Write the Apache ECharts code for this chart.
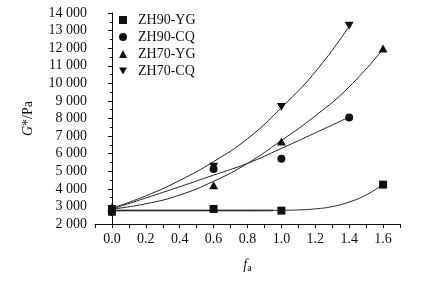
<!DOCTYPE html>
<html><head><meta charset="utf-8">
<script src="https://cdn.jsdelivr.net/npm/echarts@6/dist/echarts.min.js"></script>
<style>html,body{margin:0;padding:0;background:#fff}#c{width:431px;height:285px}</style>
</head><body><div id="c"></div>
<script>
// measured points
const seriesNames = ['ZH90-YG', 'ZH90-CQ', 'ZH70-YG', 'ZH70-CQ'];
const xYG90 = [0, 0.6, 1.0, 1.6];
const yYG90 = [2700, 2855, 2760, 4240];
const xCQ90 = [0, 0.6, 1.0, 1.4];
const yCQ90 = [2850, 5135, 5705, 8060];
const xYG70 = [0, 0.6, 1.0, 1.6];
const yYG70 = [2950, 4200, 6690, 11980];
const xCQ70 = [0, 0.6, 1.0, 1.4];
const yCQ70 = [2850, 5250, 8650, 13270];

// fitted curves
const fitX_YG90 = [0, 0.2, 0.4, 0.6, 0.8, 1.0, 1.1, 1.2, 1.3, 1.4, 1.5, 1.6];
const fitY_YG90 = [2770, 2770, 2770, 2770, 2772, 2780, 2800, 2860, 2990, 3250, 3650, 4240];
const greyX = [0, 0.95];
const greyY = [2770, 2770];
const fitX_CQ90 = [0, 0.2, 0.4, 0.6, 0.8, 1.0, 1.2, 1.4];
const fitY_CQ90 = [2850, 3480, 4120, 4780, 5450, 6300, 7180, 8080];
const fitX_YG70 = [0, 0.2, 0.4, 0.6, 0.8, 1.0, 1.2, 1.4, 1.6];
const fitY_YG70 = [2850, 3150, 3650, 4430, 5450, 6750, 8150, 9800, 11950];
const fitX_CQ70 = [0, 0.2, 0.4, 0.6, 0.8, 1.0, 1.2, 1.4];
const fitY_CQ70 = [2900, 3600, 4480, 5550, 6850, 8620, 10650, 13250];

const xTicksShown = [0, 0.2, 0.4, 0.6, 0.8, 1.0, 1.2, 1.4, 1.6];

const zip = (xs, ys) => xs.map((x, i) => [x, ys[i]]);
const FONT = '"Liberation Serif", "Times New Roman", serif';
const INK = '#111';
const downTri = 'path://M0,0 L10,0 L5,9 Z';

const chart = echarts.init(document.getElementById('c'), null, {renderer: 'canvas'});
const lineCommon = {type: 'line', smooth: true, showSymbol: false, symbol: 'none', silent: true,
  lineStyle: {color: '#222', width: 1}, z: 2};
const mark = {color: INK, opacity: 1};
chart.setOption({
  animation: false,
  backgroundColor: '#fff',
  grid: {left: 95, right: 31, top: 13, bottom: 61, containLabel: false},
  legend: {
    orient: 'vertical', left: 114, top: 8, itemWidth: 8, itemHeight: 8, itemGap: 3,
    textStyle: {fontFamily: FONT, fontSize: 14, color: INK, lineHeight: 14, padding: [0, 0, 0, 6]},
    data: [
      {name: seriesNames[0], icon: 'rect'},
      {name: seriesNames[1], icon: 'circle'},
      {name: seriesNames[2], icon: 'triangle'},
      {name: seriesNames[3], icon: downTri}
    ]
  },
  xAxis: {
    type: 'value', min: -0.1, max: 1.7, interval: 0.1,
    name: '{i|f}{s|a}', nameLocation: 'middle', nameGap: 33,
    nameTextStyle: {rich: {i: {fontFamily: FONT, fontStyle: 'italic', fontSize: 14, color: INK},
      s: {fontFamily: FONT, fontSize: 10, color: INK, verticalAlign: 'bottom', padding: [6, 0, 0, 0]}}},
    axisLine: {onZero: false, lineStyle: {color: INK, width: 1}},
    axisTick: {inside: false, length: 4, lineStyle: {color: INK}},
    splitLine: {show: false},
    axisLabel: {fontFamily: FONT, fontSize: 14, color: INK, margin: 8,
      formatter: v => {
        const k = Math.round(v * 10);
        if (k % 2 !== 0) return '';
        const val = k / 10;
        return xTicksShown.some(t => Math.abs(t - val) < 1e-6) ? val.toFixed(1) : '';
      }}
  },
  yAxis: {
    type: 'value', min: 2000, max: 14000, interval: 1000,
    name: '{i|G}{n|*/Pa}', nameLocation: 'middle', nameGap: 60,
    nameTextStyle: {rich: {i: {fontFamily: FONT, fontStyle: 'italic', fontSize: 14, color: INK},
      n: {fontFamily: FONT, fontSize: 14, color: INK}}},
    axisLine: {show: true, lineStyle: {color: INK, width: 1}},
    axisTick: {show: true, inside: false, length: 4, lineStyle: {color: INK}},
    minorTick: {show: true, splitNumber: 2, length: 2, lineStyle: {color: INK}},
    splitLine: {show: false},
    axisLabel: {fontFamily: FONT, fontSize: 14, color: INK, margin: 8,
      formatter: v => {
        const s = String(Math.round(v));
        return s.length > 3 ? s.slice(0, s.length - 3) + ' ' + s.slice(-3) : s;
      }}
  },
  series: [
    Object.assign({}, lineCommon, {data: zip(greyX, greyY), smooth: false,
      lineStyle: {color: '#9a9a9a', width: 2.5}, z: 1}),
    Object.assign({}, lineCommon, {data: zip(fitX_YG90, fitY_YG90)}),
    Object.assign({}, lineCommon, {data: zip(fitX_CQ90, fitY_CQ90)}),
    Object.assign({}, lineCommon, {data: zip(fitX_YG70, fitY_YG70)}),
    Object.assign({}, lineCommon, {data: zip(fitX_CQ70, fitY_CQ70)}),
    {name: seriesNames[3], type: 'scatter', symbol: downTri, symbolSize: [9, 8],
      itemStyle: mark, data: zip(xCQ70, yCQ70), z: 3},
    {name: seriesNames[2], type: 'scatter', symbol: 'triangle', symbolSize: [9, 8],
      itemStyle: mark, data: zip(xYG70, yYG70), z: 3},
    {name: seriesNames[1], type: 'scatter', symbol: 'circle', symbolSize: 8,
      itemStyle: mark, data: zip(xCQ90, yCQ90), z: 4},
    {name: seriesNames[0], type: 'scatter', symbol: 'rect', symbolSize: 8,
      itemStyle: mark, data: zip(xYG90, yYG90), z: 5}
  ]
});
</script></body></html>
